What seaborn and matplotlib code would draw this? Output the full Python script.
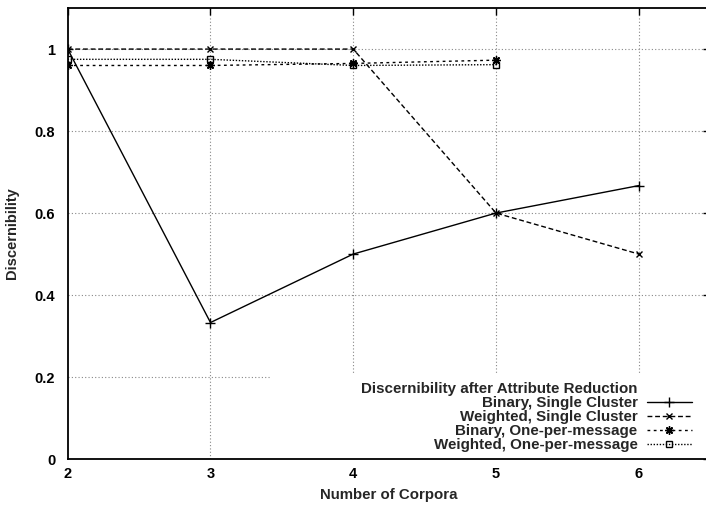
import matplotlib
matplotlib.use("Agg")
import matplotlib.pyplot as plt
import seaborn as sns
from matplotlib.patches import Rectangle
from matplotlib.lines import Line2D

# Data
corpora = [2, 3, 4, 5, 6]
binary_single = [1.0, 0.333, 0.5, 0.6, 0.667]
weighted_single = [1.0, 1.0, 1.0, 0.6, 0.5]
corpora_opm = [2, 3, 4, 5]
binary_opm = [0.96, 0.96, 0.965, 0.973]
weighted_opm = [0.975, 0.975, 0.96, 0.962]

x_ticks = [2, 3, 4, 5, 6]
y_ticks = [0, 0.2, 0.4, 0.6, 0.8, 1.0]
y_tick_labels = ["0", "0.2", "0.4", "0.6", "0.8", "1"]

sns.set_theme(style="white")
plt.rcParams["font.family"] = ["Liberation Sans", "DejaVu Sans"]
plt.rcParams["font.weight"] = "bold"

fig = plt.figure(figsize=(7.06, 5.05), dpi=100)
ax = fig.add_axes([0.0959, 0.091, 0.91, 0.893])

# grid drawn by hand so the key background can hide part of it
grid_kw = dict(color="#888888", lw=0.8, linestyle=(0, (1, 2)), zorder=0.5)
for yt in y_ticks[1:]:
    ax.axhline(yt, **grid_kw)
for xt in x_ticks[1:]:
    ax.axvline(xt, **grid_kw)

# white key background like gnuplot
ax.add_patch(Rectangle((0.315, 0.0), 0.70, 0.186, transform=ax.transAxes,
                       facecolor="white", edgecolor="none", zorder=1))

common = dict(ax=ax, color="black", lw=1, markeredgecolor="black",
              markeredgewidth=1, zorder=3)
sns.lineplot(x=corpora, y=binary_single, marker="+", markersize=6.5,
             label="Binary, Single Cluster", **common)
sns.lineplot(x=corpora, y=weighted_single, linestyle=(0, (3.5, 2)),
             marker="x", markersize=5, label="Weighted, Single Cluster", **common)
sns.lineplot(x=corpora_opm, y=binary_opm, linestyle=(0, (2, 2.5)),
             marker=(8, 2, 0), markersize=6, label="Binary, One-per-message", **common)
sns.lineplot(x=corpora_opm, y=weighted_opm, linestyle=(0, (1, 1.2)),
             marker="s", markersize=5, markerfacecolor="none",
             label="Weighted, One-per-message", **common)

ax.set_xlim(2, 6.5)
ax.set_ylim(0, 1.1)
ax.set_xticks(x_ticks)
ax.set_xticklabels([str(v) for v in x_ticks])
ax.set_yticks(y_ticks)
ax.set_yticklabels(y_tick_labels)
ax.tick_params(axis="both", direction="in", length=5, width=1, colors="black",
               labelsize=10.5, top=True, right=True)
ax.tick_params(axis="x", pad=6)
ax.tick_params(axis="y", pad=9)
for lab in ax.get_xticklabels() + ax.get_yticklabels():
    lab.set_fontweight("bold")
for sp in ax.spines.values():
    sp.set_color("black")
    sp.set_linewidth(1.3)

ax.set_xlabel("Number of Corpora", fontsize=10.8, fontweight="bold", labelpad=5)
ax.set_ylabel("Discernibility", fontsize=10.5, fontweight="bold", labelpad=11)

# gnuplot puts the key title in the label column, so use a blank entry for it
handles, labels = ax.get_legend_handles_labels()
handles = [Line2D([], [], linestyle="none")] + handles
labels = ["Discernibility after Attribute Reduction"] + labels
leg = ax.legend(handles, labels, loc="lower right",
                bbox_to_anchor=(692 / 706, 53 / 505),
                bbox_transform=fig.transFigure, frameon=False, markerfirst=False,
                borderpad=0, borderaxespad=0,
                handlelength=3.0, handletextpad=0.6, labelspacing=0.0,
                prop={"weight": "bold", "size": 10.9})
leg.set_zorder(4)

plt.savefig("out.png", dpi=100)
plt.close()
